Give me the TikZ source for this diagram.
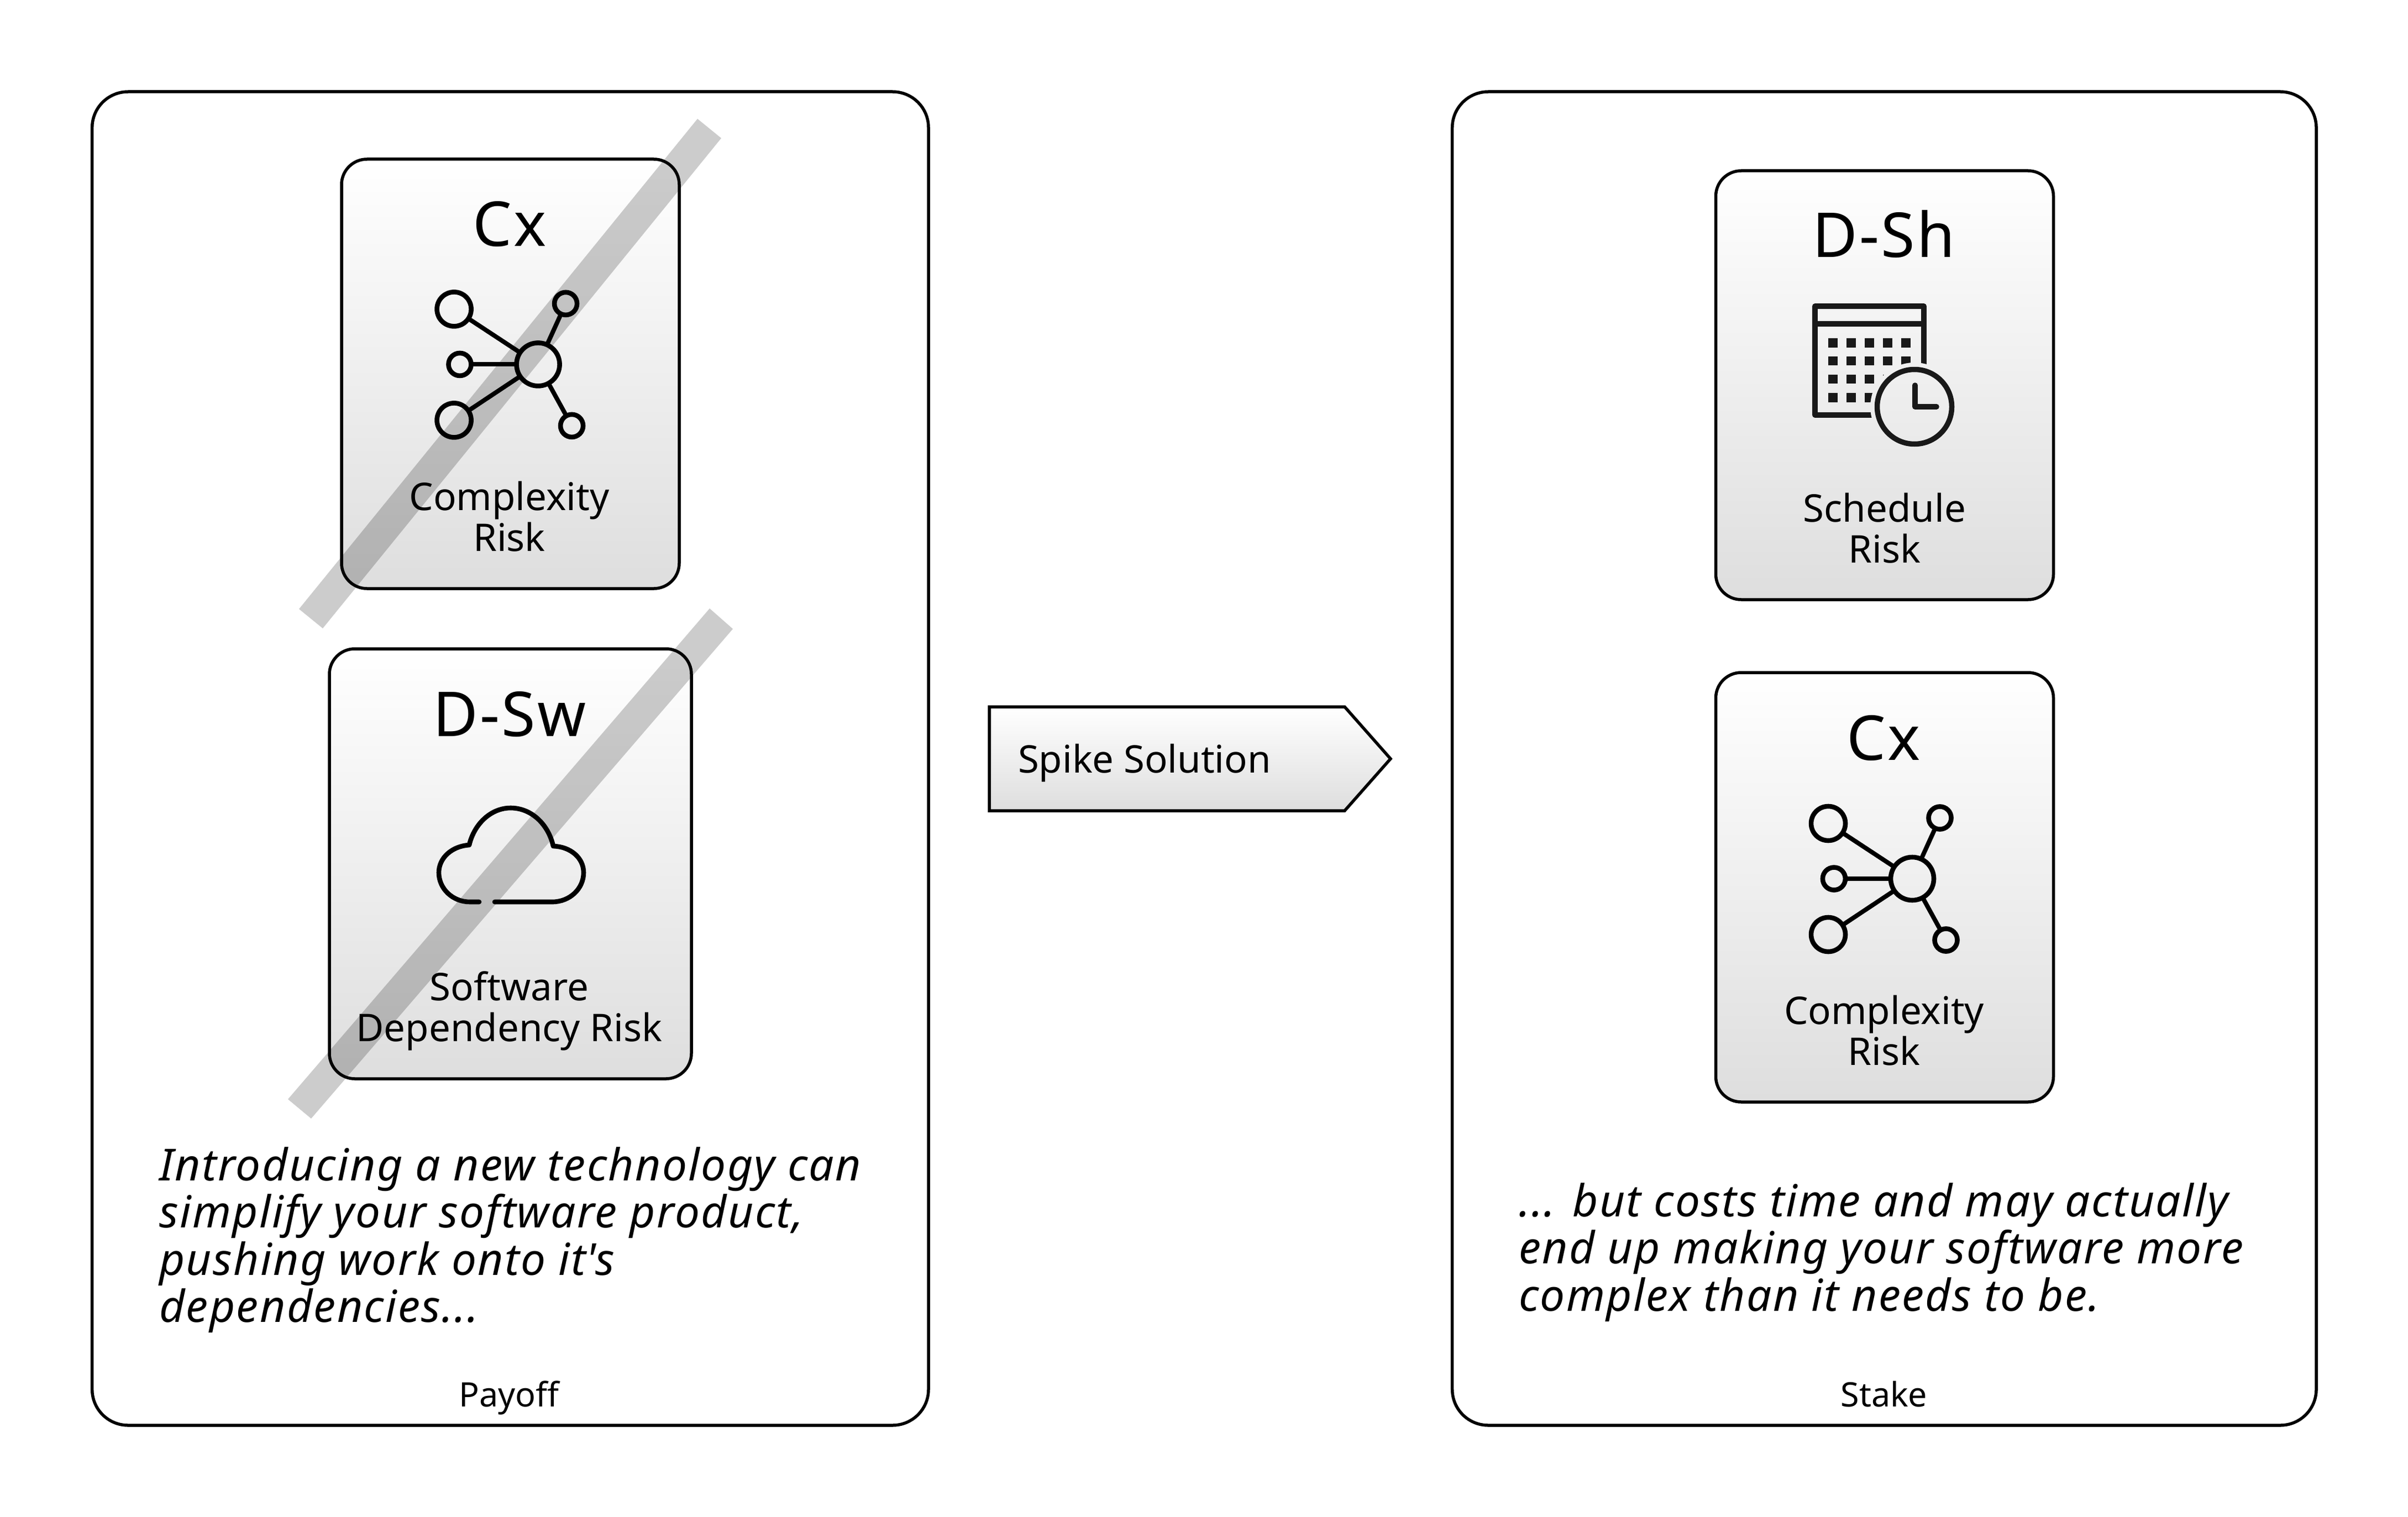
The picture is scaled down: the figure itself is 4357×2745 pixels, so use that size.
\documentclass[tikz,border=0pt]{standalone}
\usepackage{fontspec}
\setmainfont{Noto Sans}[Ligatures=NoCommon]
\newfontfamily\spacedfont{Noto Sans}[LetterSpace=3,Ligatures=NoCommon]
\newcommand{\fsize}[2]{\fontsize{#1}{#2}\selectfont}
\tikzset{
  x=1pt,y=-1pt,
  panelbox/.style={draw=black,line width=5.5pt,rectangle,rounded corners=65pt,inner sep=0pt,outer sep=0pt},
  riskcard/.style={draw=black,line width=5.5pt,rectangle,rounded corners=46pt,inner sep=0pt,outer sep=0pt,
     shade,top color=white,bottom color=black!13},
  titletext/.style={anchor=base,inner sep=0pt,font=\spacedfont\fsize{112}{120}},
  cardtext/.style={anchor=base,inner sep=0pt,font=\fsize{69}{74},align=center},
  paneltext/.style={anchor=base,inner sep=0pt,font=\fsize{61}{70}},
  bodytext/.style={anchor=base west,inner sep=0pt,font=\spacedfont\fsize{80}{85.5}\itshape,align=left},
  strikeband/.style={fill=black,fill opacity=.2},
  netdot/.style={draw=black,line width=8.6pt,circle,inner sep=0pt,outer sep=0pt,minimum size=#1},
  netlink/.style={draw=black,line width=8pt},
  iconline/.style={draw=black!90,line width=9.5pt},
  netpic/.pic={
    \node[netdot=78pt] (hub) at (0,0) {};
    \node[netdot=62pt] (a) at (-152,-100) {};
    \node[netdot=41pt] (b) at (-141.6,0) {};
    \node[netdot=62pt] (c) at (-152,101) {};
    \node[netdot=41pt] (d) at (50,-110) {};
    \node[netdot=41pt] (e) at (61,111) {};
    \draw[netlink] (a) -- (hub);
    \draw[netlink] (b) -- (hub);
    \draw[netlink] (c) -- (hub);
    \draw[netlink] (d) -- (hub);
    \draw[netlink] (e) -- (hub);
  }
}
\begin{document}
\begin{tikzpicture}
\useasboundingbox (0,0) rectangle (4357,2745);
\fill[white] (0,0) rectangle (4357,2745);

% panels
\node[panelbox,minimum width=1513.3pt,minimum height=2413pt] (payoff) at (923.35,1372.5) {};
\node[panelbox,minimum width=1563.3pt,minimum height=2413pt] (stake) at (3409.35,1372.5) {};
\node[paneltext] (payofflabel) at (921,2545) {Payoff};
\node[paneltext] (stakelabel) at (3409,2545) {Stake};

% cards
\node[riskcard,minimum width=611pt,minimum height=777pt] (cxa) at (923.5,676.5) {};
\node[riskcard,minimum width=655pt,minimum height=778pt] (dsw) at (923.5,1563) {};
\node[riskcard,minimum width=611pt,minimum height=776pt] (dsh) at (3410,697) {};
\node[riskcard,minimum width=611pt,minimum height=777pt] (cxb) at (3410,1605.5) {};

% card titles
\node[titletext] (cxatitle) at (922,445) {Cx};
\node[titletext] (dswtitle) at (922,1332.5) {D-Sw};
\node[titletext] (dshtitle) at (3408.5,465.5) {D-Sh};
\node[titletext] (cxbtitle) at (3408.5,1375.5) {Cx};

% card labels
\node[cardtext] (cxalabel) at (921.5,997) {Complexity\\Risk};
\node[cardtext] (dswlabel) at (921.5,1884) {Software\\Dependency Risk};
\node[cardtext] (dshlabel) at (3410,1018) {Schedule\\Risk};
\node[cardtext] (cxblabel) at (3409,1927.5) {Complexity\\Risk};

% network icons
\pic (neta) at (973.6,659.4) {netpic};
\pic (netb) at (3460,1590) {netpic};

% cloud icon
\draw[draw=black,line width=8.6pt,line cap=round,line join=round]
  (867,1632) -- (850,1632)
  .. controls (819,1632) and (794,1608) .. (794,1579)
  .. controls (794,1552) and (818,1531) .. (849,1529)
  .. controls (858,1491) and (888,1462) .. (924,1462)
  .. controls (961,1462) and (992,1491) .. (1001,1531)
  .. controls (1032,1532) and (1056,1552) .. (1056,1579)
  .. controls (1056,1608) and (1031,1632) .. (999,1632)
  -- (895,1632);

% calendar icon
\begin{scope}[even odd rule]
  \clip (3200,500) -- (3200,800) -- (3600,800) -- (3600,500) -- cycle
        (3544,736) arc[start angle=0,end angle=360,radius=80];
  \draw[iconline,line join=round] (3284,554) rectangle (3481,751);
  \draw[iconline] (3284,586) -- (3481,586);
  \foreach \xx in {3308,3341,3374,3407,3440}
    \foreach \yy in {612,644.5,677.5,711}
      \fill[black!90] (\xx,\yy) rectangle ++(16.5,16.5);
\end{scope}
\draw[iconline] (3464,736) circle (67.5);
\draw[iconline,line cap=round,line join=round] (3465,697) -- (3465,736) -- (3504,736);

% spike solution arrow
\path[draw=black,line width=5.5pt,shade,top color=white,bottom color=black!13]
  (1790,1279) -- (2433,1279) -- (2516,1373) -- (2433,1467) -- (1790,1467) -- cycle;
\node[anchor=base west,inner sep=0pt,font=\fsize{68.8}{74}] (spike) at (1842,1398) {Spike Solution};

% body text
\node[bodytext] (payofftext) at (288,2392.5) {Introducing a new technology can\\simplify your software product,\\pushing work onto it\textquotesingle s\\dependencies...};
\node[bodytext] (staketext) at (2748,2372) {... but costs time and may actually\\end up making your software more\\complex than it needs to be.};

% strike bands
\fill[strikeband] (1262,215) -- (1305,250) -- (584,1137) -- (541,1102) -- cycle;
\fill[strikeband] (1284,1101) -- (1326,1138) -- (563,2024) -- (521,1989) -- cycle;
\end{tikzpicture}
\end{document}
